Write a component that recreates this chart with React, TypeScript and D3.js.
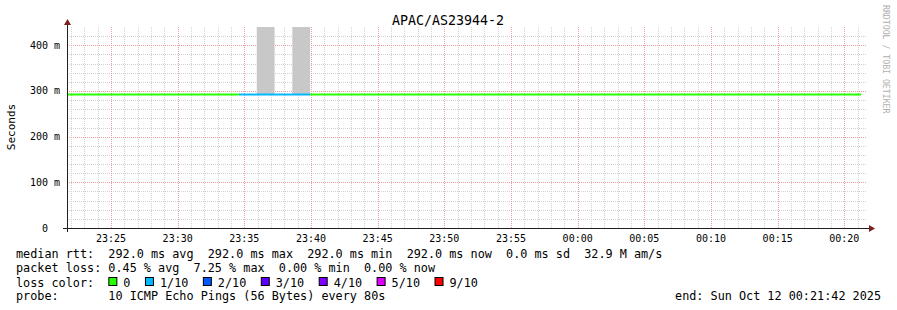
import React from "react";
import * as d3 from "d3";

// ---- data ----
const title = "APAC/AS23944-2";
const startTime = new Date(2025, 9, 11, 23, 21, 42);
const endTime = new Date(2025, 9, 12, 0, 21, 42);
const firstSampleStart = new Date(2025, 9, 11, 23, 21, 16);
const stepSeconds = 80;
const yMax = 0.44;
const yMajorTicks = [0, 0.1, 0.2, 0.3, 0.4];
const yTickLabels = ["0  ", "100 m", "200 m", "300 m", "400 m"];

// median rtt per 80s sample (seconds)
const medianRtt = [
  0.292, 0.292, 0.292, 0.292, 0.292, 0.292, 0.292, 0.292, 0.292, 0.292,
  0.292, 0.292, 0.292, 0.292, 0.292, 0.292, 0.292, 0.292, 0.292, 0.292,
  0.292, 0.292, 0.292, 0.292, 0.292, 0.292, 0.292, 0.292, 0.292, 0.292,
  0.292, 0.292, 0.292, 0.292, 0.292, 0.292, 0.292, 0.292, 0.292, 0.292,
  0.292, 0.292, 0.292, 0.292, 0.292,
];
// lost pings out of 10 per sample
const lossCount = [
  0, 0, 0, 0, 0, 0, 0, 0, 0, 0,
  1, 1, 1, 1, 0, 0, 0, 0, 0, 0,
  0, 0, 0, 0, 0, 0, 0, 0, 0, 0,
  0, 0, 0, 0, 0, 0, 0, 0, 0, 0,
  0, 0, 0, 0, 0,
];
// smoke (max ping) per sample, null = no visible smoke
const smokeMax: (number | null)[] = [
  null, null, null, null, null, null, null, null, null, null,
  null, 0.52, null, 0.52, null, null, null, null, null, null,
  null, null, null, null, null, null, null, null, null, null,
  null, null, null, null, null, null, null, null, null, null,
  null, null, null, null, null,
];

const lossLegend = ["0", "1/10", "2/10", "3/10", "4/10", "5/10", "9/10"];
const lossLevels = [0, 1, 2, 3, 4, 5, 9];
const lossColors = ["#26ff00", "#00b8ff", "#0059ff", "#5e00ff", "#7e00ff", "#dd00ff", "#ff0000"];

const legendLine1 = "median rtt:  292.0 ms avg  292.0 ms max  292.0 ms min  292.0 ms now  0.0 ms sd  32.9 M am/s";
const legendLine2 = "packet loss: 0.45 % avg  7.25 % max  0.00 % min  0.00 % now";
const legendLine3 = "loss color:";
const probeLabel = "probe:";
const probeText = "10 ICMP Echo Pings (56 Bytes) every 80s";
const endText = "end: Sun Oct 12 00:21:42 2025";
const watermark = "RRDTOOL / TOBI OETIKER";

// ---- layout ----
const W = 897;
const H = 310;
const X0 = 67;
const X1 = 867;
const Y0 = 228;
const Y1 = 27;
const MONO = "'DejaVu Sans Mono', monospace";
const LEGEND_FS = 11.8;
const CHAR_W = LEGEND_FS * 0.602;
const PRE = { whiteSpace: "pre" as const };

function colorForLoss(l: number) {
  let idx = 0;
  for (let i = 0; i < lossLevels.length; i++) if (l >= lossLevels[i]) idx = i;
  return lossColors[idx];
}

export default function App() {
  const x = d3.scaleTime().domain([startTime, endTime]).range([X0, X1]);
  const y = d3.scaleLinear().domain([0, yMax]).range([Y0, Y1]);
  const snap = (v: number) => Math.round(v) + 0.5;

  const minorX = d3.timeMinute.range(startTime, endTime).filter((d) => d.getMinutes() % 5 !== 0);
  const majorX = d3.timeMinute.every(5)!.range(startTime, endTime);
  const fmt = d3.timeFormat("%H:%M");

  const minorY = d3
    .range(1, Math.floor(yMax / 0.02 + 1e-9))
    .map((i) => i * 0.02)
    .filter((v) => Math.abs(v * 10 - Math.round(v * 10)) > 1e-6 && y(v) > Y1 + 1);

  const samples = medianRtt.map((m, i) => {
    const s = new Date(firstSampleStart.getTime() + i * stepSeconds * 1000);
    const e = new Date(s.getTime() + stepSeconds * 1000);
    return { s, e, m, loss: lossCount[i], smoke: smokeMax[i] };
  });

  const clipX = (v: number) => Math.max(X0, Math.min(X1, v));

  // merge consecutive samples of same colour into runs
  const runs: { x1: number; x2: number; yv: number; color: string }[] = [];
  samples.forEach((s) => {
    const c = colorForLoss(s.loss);
    const last = runs[runs.length - 1];
    const xs = clipX(x(s.s));
    const xe = clipX(x(s.e));
    if (last && last.color === c && last.yv === s.m) last.x2 = xe;
    else runs.push({ x1: xs, x2: xe, yv: s.m, color: c });
  });

  // legend boxes layout
  let cursor = 16 + 13 * CHAR_W;
  const boxes = lossLegend.map((lab, i) => {
    const bx = cursor;
    const tx = bx + 15;
    cursor = tx + lab.length * CHAR_W + 14.5;
    return { lab, bx, tx, color: lossColors[i] };
  });

  return (
    <svg width={W} height={H} style={{ position: "absolute", left: 0, top: 0, background: "#fff" }} fontFamily={MONO}>
      <rect x={0} y={0} width={W} height={H} fill="#ffffff" />
      {/* minor grid */}
      <g stroke="#d2d2d2" strokeDasharray="1 1" strokeWidth={1}>
        {minorX.map((d, i) => (
          <line key={"mx" + i} x1={snap(x(d))} x2={snap(x(d))} y1={Y1} y2={Y0} />
        ))}
        {minorY.map((v, i) => (
          <line key={"my" + i} x1={X0} x2={X1} y1={snap(y(v))} y2={snap(y(v))} />
        ))}
      </g>
      {/* major grid */}
      <g stroke="#ee9f9f" strokeDasharray="1 1" strokeWidth={1}>
        {majorX.map((d, i) => (
          <line key={"Mx" + i} x1={snap(x(d))} x2={snap(x(d))} y1={Y1} y2={Y0} />
        ))}
        {yMajorTicks.filter((v) => v > 0).map((v, i) => (
          <line key={"My" + i} x1={X0} x2={X1} y1={snap(y(v))} y2={snap(y(v))} />
        ))}
      </g>
      {/* smoke */}
      {samples.map((s, i) =>
        s.smoke == null ? null : (
          <rect
            key={"sm" + i}
            x={clipX(x(s.s))}
            width={clipX(x(s.e)) - clipX(x(s.s))}
            y={y(Math.min(s.smoke, yMax))}
            height={y(s.m) - y(Math.min(s.smoke, yMax))}
            fill="#c8c8c8"
          />
        )
      )}
      {/* median line */}
      {runs.map((r, i) => (
        <line key={"md" + i} x1={r.x1} x2={r.x2} y1={y(r.yv)} y2={y(r.yv)} stroke={r.color} strokeWidth={2} />
      ))}
      {/* axes */}
      <line x1={X0 - 4} x2={X1 + 3} y1={Y0 + 0.5} y2={Y0 + 0.5} stroke="#1f1f1f" />
      <line x1={X0 + 0.5} x2={X0 + 0.5} y1={Y0 + 4} y2={Y1 - 3} stroke="#1f1f1f" />
      <path d={`M${X1 + 2},${Y0 - 3} L${X1 + 8},${Y0 + 0.5} L${X1 + 2},${Y0 + 4} Z`} fill="#801f1f" />
      <path d={`M${X0 - 3},${Y1 - 2} L${X0 + 0.5},${Y1 - 8} L${X0 + 4},${Y1 - 2} Z`} fill="#801f1f" />
      {/* y labels */}
      {yMajorTicks.map((v, i) => (
        <text key={"yl" + i} x={60} y={y(v) + 3.5} fontSize={10} textAnchor="end" xmlSpace="preserve" style={PRE} fill="#000">
          {yTickLabels[i]}
        </text>
      ))}
      {/* x labels */}
      {majorX.map((d, i) => (
        <text key={"xl" + i} x={x(d)} y={242} fontSize={10} textAnchor="middle" fill="#000">
          {fmt(d)}
        </text>
      ))}
      {/* title */}
      <text x={448} y={24.5} fontSize={13.3} textAnchor="middle" fill="#000">
        {title}
      </text>
      {/* y axis title */}
      <text x={15} y={127} fontSize={11} textAnchor="middle" transform="rotate(-90 15 127)" fill="#000">
        Seconds
      </text>
      {/* watermark */}
      <text x={883} y={5} fontSize={8.2} transform="rotate(90 883 5)" fill="#b0b0b0">
        {watermark}
      </text>
      {/* legend */}
      <g fontSize={LEGEND_FS} fill="#000">
        <text x={16} y={258} xmlSpace="preserve" style={PRE}>{legendLine1}</text>
        <text x={16} y={272} xmlSpace="preserve" style={PRE}>{legendLine2}</text>
        <text x={16} y={286.5} xmlSpace="preserve" style={PRE}>{legendLine3}</text>
        {boxes.map((b, i) => (
          <g key={"lb" + i}>
            <rect x={b.bx + 0.5} y={277.5} width={8} height={8} fill={b.color} stroke="#000" strokeWidth={1} />
            <text x={b.tx} y={286.5}>{b.lab}</text>
          </g>
        ))}
        <text x={16} y={300}>{probeLabel}</text>
        <text x={16 + 13 * CHAR_W} y={300}>{probeText}</text>
        <text x={881} y={300} textAnchor="end">{endText}</text>
      </g>
    </svg>
  );
}
